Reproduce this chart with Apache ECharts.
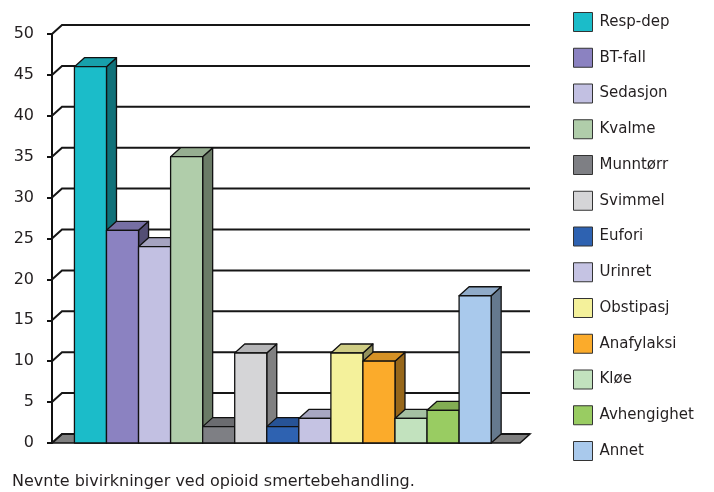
<!DOCTYPE html>
<html>
<head>
<meta charset="utf-8">
<script src="https://cdn.jsdelivr.net/npm/echarts@6/dist/echarts.min.js"></script>
<style>
  html, body { margin: 0; padding: 0; background: #fff; }
  #chart { width: 714px; height: 492px; }
</style>
</head>
<body>
<div id="chart"></div>
<script>
// bivirkninger (en serie per søyle)
const names = ['Resp-dep', 'BT-fall', 'Sedasjon', 'Kvalme', 'Munntørr', 'Svimmel', 'Eufori',
  'Urinret', 'Obstipasj', 'Anafylaksi', 'Kløe', 'Avhengighet', 'Annet'];
const values = [46, 26, 24, 35, 2, 11, 2, 3, 11, 10, 3, 4, 18];
const colors = ['#1bbcc9', '#8b82c1', '#c2c0e2', '#b0cdaa', '#7e7f84', '#d5d5d7', '#2e62b1',
  '#c5c3e3', '#f4f19b', '#fbab2b', '#c2e2be', '#99cc62', '#a9c9ec'];
const yTicks = [0, 5, 10, 15, 20, 25, 30, 35, 40, 45, 50];

const X_MIN = -1.2, X_MAX = 13.4;
const DX = 10, DY = -9;
const FONT = 'DejaVu Sans';
const INK = '#231f20';

function shade(hex, k) {
  const n = parseInt(hex.slice(1), 16);
  const r = Math.round(((n >> 16) & 255) * k);
  const g = Math.round(((n >> 8) & 255) * k);
  const b = Math.round((n & 255) * k);
  return 'rgb(' + r + ',' + g + ',' + b + ')';
}

// bakvegg, gulv og skrå hjelpelinjer
function renderFrame(params, api) {
  const v = api.value(1);
  const p = api.coord([X_MIN, v]);
  const q = api.coord([X_MAX, v]);
  const children = [];
  if (v === 0) {
    children.push({
      type: 'polygon',
      shape: { points: [p, q, [q[0] + DX, q[1] + DY], [p[0] + DX, p[1] + DY]] },
      style: { fill: '#7f7f7f', stroke: '#111', lineWidth: 1.5 }
    });
  }
  children.push({
    type: 'polyline',
    shape: { points: [p, [p[0] + DX, p[1] + DY], [q[0] + DX, q[1] + DY]] },
    style: { fill: null, stroke: '#161616', lineWidth: 2 }
  });
  return { type: 'group', children: children };
}

function renderBar(params, api) {
  const x = api.value(0);
  const top = api.coord([x, api.value(1)]);
  const base = api.coord([x, 0]);
  const w = api.size([1, 0])[0];
  const x0 = top[0] - w / 2, x1 = top[0] + w / 2;
  const color = colors[params.seriesIndex - 1];
  const line = { stroke: '#111', lineWidth: 1.3, lineJoin: 'round' };
  return {
    type: 'group',
    children: [{
      type: 'polygon',
      shape: { points: [[x1, top[1]], [x1 + DX, top[1] + DY], [x1 + DX, base[1] + DY], [x1, base[1]]] },
      style: Object.assign({ fill: shade(color, 0.6) }, line)
    }, {
      type: 'polygon',
      shape: { points: [[x0, top[1]], [x1, top[1]], [x1 + DX, top[1] + DY], [x0 + DX, top[1] + DY]] },
      style: Object.assign({ fill: shade(color, 0.85) }, line)
    }, {
      type: 'rect',
      shape: { x: x0, y: top[1], width: w, height: base[1] - top[1] },
      style: Object.assign({ fill: color }, line)
    }]
  };
}

const series = [{
  type: 'custom',
  name: 'frame',
  z: 1,
  silent: true,
  clip: false,
  renderItem: renderFrame,
  encode: { x: 0, y: 1 },
  data: yTicks.map(v => [X_MIN, v])
}];
names.forEach((n, i) => {
  series.push({
    type: 'custom',
    name: n,
    z: 2,
    clip: false,
    renderItem: renderBar,
    itemStyle: { color: colors[i], borderColor: '#222', borderWidth: 1 },
    encode: { x: 0, y: 1 },
    data: [[i, values[i]]]
  });
});

const chart = echarts.init(document.getElementById('chart'));
chart.setOption({
  animation: false,
  backgroundColor: '#fff',
  textStyle: { fontFamily: FONT },
  title: {
    text: 'Nevnte bivirkninger ved opioid smertebehandling.',
    left: 12,
    top: 474,
    padding: 0,
    textStyle: { fontFamily: FONT, fontSize: 16, fontWeight: 'normal', color: INK }
  },
  legend: {
    data: names,
    orient: 'vertical',
    left: 573,
    top: 12,
    padding: 0,
    icon: 'rect',
    itemWidth: 19,
    itemHeight: 19,
    itemGap: 15.75,
    itemStyle: { borderColor: '#333', borderWidth: 1 },
    textStyle: { fontFamily: FONT, fontSize: 15, color: INK, padding: [0, 0, 0, 2] }
  },
  grid: { left: 52, right: 194, top: 34, bottom: 49, containLabel: false },
  xAxis: { type: 'value', min: X_MIN, max: X_MAX, show: false },
  yAxis: {
    type: 'value',
    min: 0,
    max: 50,
    interval: 5,
    axisLine: { show: true, onZero: false, lineStyle: { color: '#111', width: 2 } },
    axisTick: { show: true, length: 5, lineStyle: { color: '#111', width: 2 } },
    axisLabel: { fontFamily: FONT, fontSize: 16, color: INK, margin: 18 },
    splitLine: { show: false }
  },
  series: series
});
</script>
</body>
</html>
